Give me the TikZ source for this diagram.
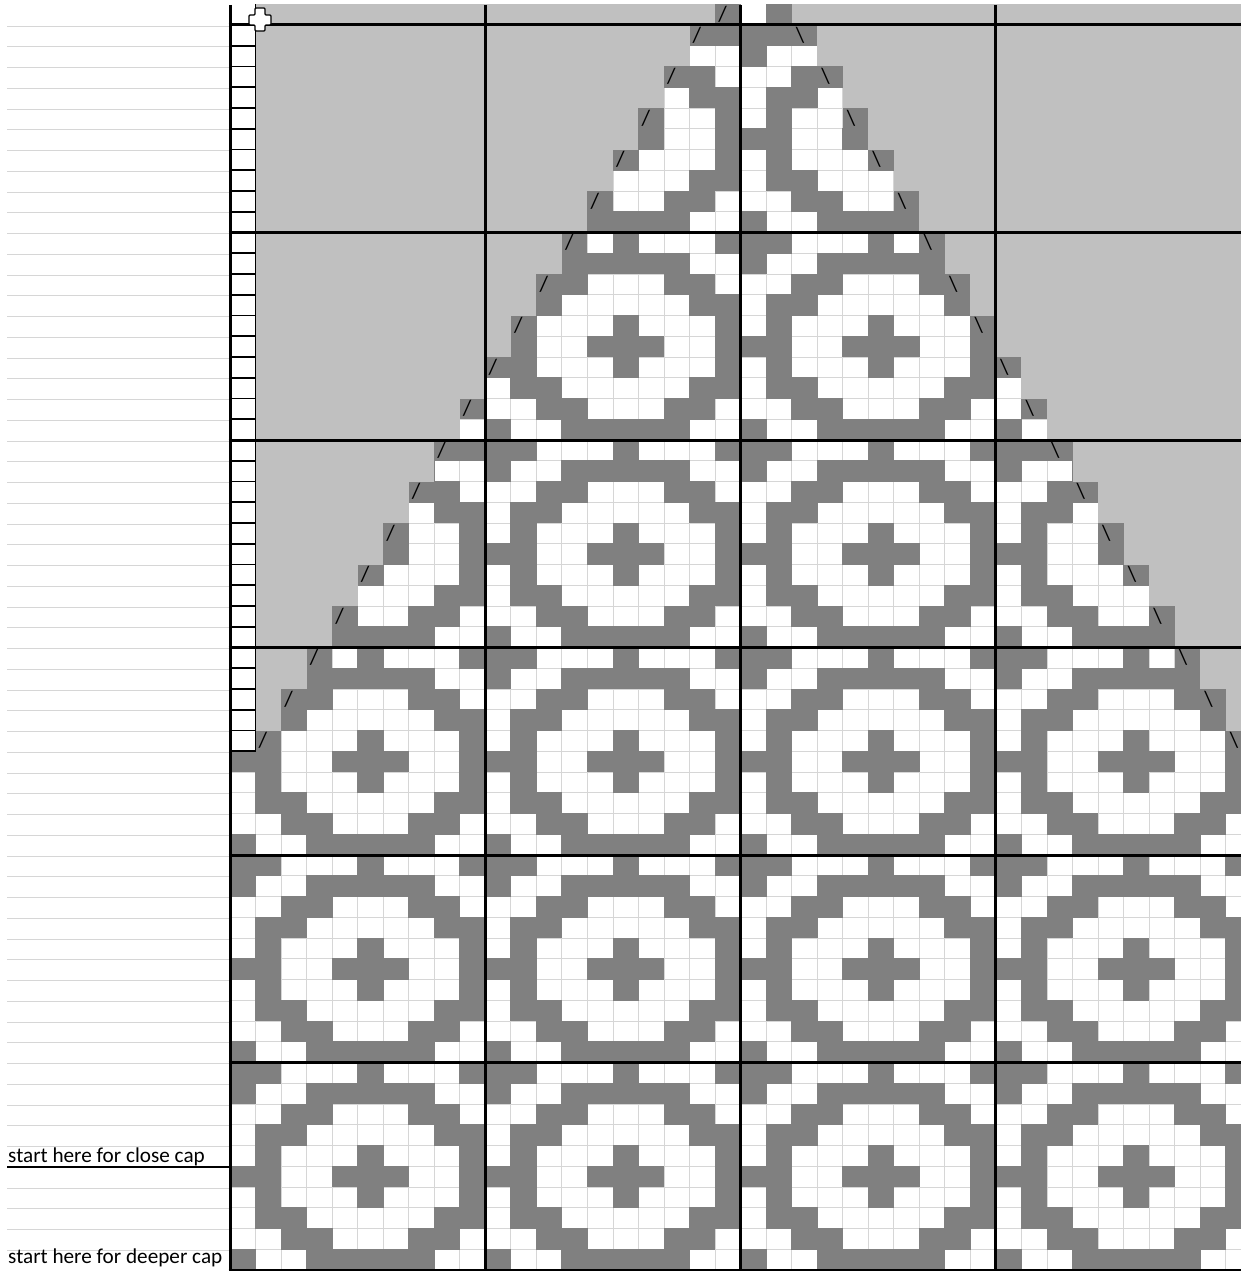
\documentclass[tikz,border=0pt]{standalone}
\usepackage{fontspec}
\setmainfont{Carlito}
\usetikzlibrary{positioning}
\definecolor{knitdark}{HTML}{808080}
\definecolor{knitcap}{HTML}{C0C0C0}
\definecolor{gridgray}{HTML}{D6D6D6}
\tikzset{
  knit/.style={fill=knitdark},
  capfill/.style={fill=knitcap},
  thinrule/.style={draw=gridgray, line width=0.9pt},
  blockrule/.style={draw=black, line width=3pt},
  edgebox/.style={draw=black, line width=1.6pt},
  decmark/.style={inner sep=0pt, anchor=base west, font=\fontsize{22}{24}\selectfont},
  note/.style={inner sep=0pt, anchor=base west, font=\fontsize{21.2}{24}\selectfont},
}

\begin{document}
\begin{tikzpicture}[x=1pt, y=-1pt]
  \useasboundingbox (0,0) rectangle (1241,1271);
  \clip (0,0) rectangle (1241,1271);

  \foreach \k in {0,...,40}
    \draw[thinrule] ({230+\k*25.53},4.25) -- ({230+\k*25.53},1270);
  \foreach \r in {1,...,61}
    \draw[thinrule] (230,{4.25+\r*20.75}) -- (1241,{4.25+\r*20.75});

  \foreach \b in {0,...,5}
    \foreach \j in {0,...,3}
      \foreach \m/\cols in {0/{0,1,5,9},1/{0,3,4,5,6,7},2/{2,3,7,8},3/{1,2,8,9},4/{1,5,9},
                            5/{0,1,4,5,6,9},6/{1,5,9},7/{1,2,8,9},8/{2,3,7,8},9/{0,3,4,5,6,7}}
        \foreach \c in \cols
          \fill[knit] ({230+(10*\j+\c)*25.53-0.4},{4.25+(1+10*\b+\m)*20.75-0.4}) rectangle +(26.33,21.55);

  \foreach \r in {0,...,35} {
    \pgfmathtruncatemacro\h{(\r+1)/2}
    \pgfmathtruncatemacro\lo{19-\h}
    \pgfmathtruncatemacro\hi{22+\h}
    \fill[capfill] (255.53,{4.25+\r*20.75-0.4}) rectangle ({230+\lo*25.53},{4.25+(\r+1)*20.75+0.4});
    \fill[capfill] ({230+\hi*25.53},{4.25+\r*20.75-0.4}) rectangle (1241,{4.25+(\r+1)*20.75+0.4});
  }

  \foreach \r in {1,3,...,35} {
    \pgfmathtruncatemacro\h{(\r+1)/2}
    \pgfmathtruncatemacro\lo{19-\h}
    \pgfmathtruncatemacro\hi{21+\h}
    \fill[knit] ({230+\lo*25.53},{4.25+\r*20.75}) rectangle +(25.53,20.75);
    \fill[knit] ({230+\hi*25.53},{4.25+\r*20.75}) rectangle +(25.53,20.75);
    \node[decmark] (decl-\r) at ({230+\lo*25.53+3},{4.25+(\r+1)*20.75-3.5}) {/};
    \node[decmark] (decr-\r) at ({230+\hi*25.53+4},{4.25+(\r+1)*20.75-3.5}) {\textbackslash};
  }
  \fill[knit] ({230+19*25.53},4.25) rectangle +(25.53,20.75);
  \fill[knit] ({230+21*25.53},4.25) rectangle +(25.53,20.75);
  \node[decmark] (decl-0) at ({230+19*25.53+3},21.5) {/};

  \foreach \r in {0,...,35}
    \fill[white] (230,{4.25+\r*20.75}) rectangle (255.53,{4.25+(\r+1)*20.75});
  \foreach \r in {1,...,36}
    \draw[edgebox] (230,{4.25+\r*20.75}) -- (255.53,{4.25+\r*20.75});
  \draw[edgebox] (255.53,4.25) -- (255.53,751.25);

  \foreach \k in {0,10,20,30}
    \draw[blockrule] ({230+\k*25.53},5) -- ({230+\k*25.53},1271);
  \foreach \r in {1,11,...,61}
    \draw[blockrule] (228.5,{4.25+\r*20.75}) -- (1241,{4.25+\r*20.75});

  \foreach \r in {1,...,61}
    \draw[thinrule] (7,{5.25+\r*20.75}) -- (228.5,{5.25+\r*20.75});
  \draw[black, line width=1.4pt] (7,1167) -- (229,1167);
  \node[note] (closecap) at (8,1162) {start here for close cap};
  \node[note] (deepercap) at (8,1263) {start here for deeper cap};

  \draw[fill=white, line width=1.3pt, rounded corners=1pt]
    (255,8) -- (265,8) -- (265,15) -- (271,15) -- (271,25) -- (265,25) -- (265,31)
    -- (255,31) -- (255,25) -- (249,25) -- (249,15) -- (255,15) -- cycle;
\end{tikzpicture}
\end{document}
